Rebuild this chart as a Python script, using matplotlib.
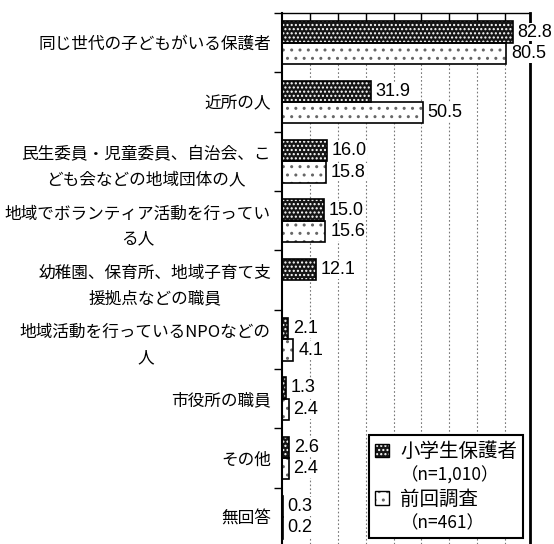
import numpy as np
import matplotlib.pyplot as plt
from matplotlib.patches import Patch

plt.rcParams['font.family'] = ['Noto Sans CJK JP', 'DejaVu Sans']
plt.rcParams['hatch.linewidth'] = 1.0

# 回答項目と割合(%)
categories = [
    '同じ世代の子どもがいる保護者',
    '近所の人',
    '民生委員・児童委員、自治会、こ\nども会などの地域団体の人',
    '地域でボランティア活動を行ってい\nる人',
    '幼稚園、保育所、地域子育て支\n援拠点などの職員',
    '地域活動を行っているNPOなどの\n人',
    '市役所の職員',
    'その他',
    '無回答',
]
current = [82.8, 31.9, 16.0, 15.0, 12.1, 2.1, 1.3, 2.6, 0.3]
previous = [80.5, 50.5, 15.8, 15.6, np.nan, 4.1, 2.4, 2.4, 0.2]
series_labels = ['小学生保護者', '（n=1,010）', '前回調査', '（n=461）']

DARK_FACE, DARK_HATCH = '#151515', 'white'
LIGHT_FACE, LIGHT_HATCH = 'white', '#666666'

fig = plt.figure(figsize=(5.54, 5.44), dpi=100)
ax = fig.add_axes([0.509, 0.0, 0.448, 0.976])

y = np.arange(len(categories))
h = 0.36
off = 0.18

# 塗り(ハッチ)と枠を別々に描く
ax.barh(y - off, current, h, color=DARK_FACE, edgecolor=DARK_HATCH,
        hatch='....', linewidth=0, zorder=2)
ax.barh(y - off, current, h, fill=False, edgecolor='black', linewidth=1.2, zorder=3)
ax.barh(y + off, previous, h, color=LIGHT_FACE, edgecolor=LIGHT_HATCH,
        hatch='..', linewidth=0, zorder=2)
ax.barh(y + off, previous, h, fill=False, edgecolor='black', linewidth=1.2, zorder=3)

for vals, dy in ((current, -off), (previous, off)):
    for yi, v in zip(y, vals):
        if np.isnan(v):
            continue
        ax.annotate(f'{v:.1f}', (v, yi + dy), xytext=(3.5, 0), textcoords='offset points',
                    ha='left', va='center', fontsize=13, family='Liberation Sans',
                    bbox=dict(boxstyle='square,pad=0.05', fc='white', ec='none'),
                    zorder=5, annotation_clip=False)

ax.set_xlim(0, 89)
ax.set_ylim(8.45, -0.49)

ax.set_xticks(np.arange(10, 90, 10))
ax.xaxis.tick_top()
ax.tick_params(axis='x', direction='in', length=7, width=1, labeltop=False, top=True, bottom=False)
ax.grid(axis='x', linestyle=(0, (1.5, 2)), color='#777777', linewidth=0.8, zorder=0)

ax.set_yticks(y)
ax.set_yticklabels(categories, fontsize=12, linespacing=1.6)
for t in ax.get_yticklabels():
    t.set_multialignment('center')
ax.set_yticks(np.arange(-0.5, 8.5, 1.0), minor=True)
ax.tick_params(axis='y', which='major', length=0, pad=8)
ax.tick_params(axis='y', which='minor', length=6, width=1, direction='out')

ax.spines['bottom'].set_visible(False)
ax.spines['left'].set_linewidth(1.5)
ax.spines['top'].set_linewidth(1.0)
ax.spines['right'].set_linewidth(2.0)

dark_handle = (Patch(facecolor=DARK_FACE, edgecolor=DARK_HATCH, hatch='....', linewidth=0),
               Patch(fill=False, edgecolor='black', linewidth=1))
light_handle = (Patch(facecolor=LIGHT_FACE, edgecolor=LIGHT_HATCH, hatch='..', linewidth=0),
                Patch(fill=False, edgecolor='black', linewidth=1))
blank = Patch(facecolor='none', edgecolor='none')
leg = ax.legend([dark_handle, blank, light_handle, blank], series_labels,
                loc='lower right', bbox_to_anchor=(0.972, 0.011), borderaxespad=0,
                fancybox=False, framealpha=1, edgecolor='black', fontsize=14,
                handlelength=0.7, handleheight=0.7, handletextpad=0.6,
                labelspacing=0.22, borderpad=0.3)
leg.get_frame().set_linewidth(1.5)
leg.set_zorder(6)
for t in leg.get_texts()[1::2]:
    t.set_fontsize(12.5)

fig.savefig('out.png', dpi=100, facecolor='white')
